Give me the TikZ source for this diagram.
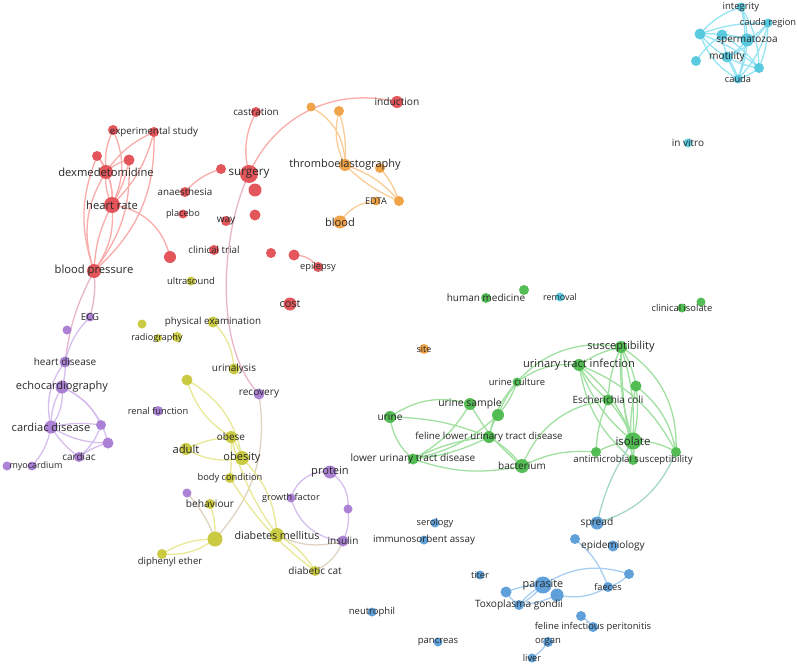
\documentclass[tikz,border=0pt]{standalone}
\usepackage{fontspec}
\setmainfont{Open Sans}
\definecolor{cR}{RGB}{226,78,84}
\definecolor{cO}{RGB}{240,160,64}
\definecolor{cC}{RGB}{84,200,222}
\definecolor{cG}{RGB}{76,186,76}
\definecolor{cB}{RGB}{88,156,216}
\definecolor{cP}{RGB}{168,124,212}
\definecolor{cY}{RGB}{200,200,58}
\definecolor{txt}{RGB}{40,40,40}
\definecolor{lR}{RGB}{250,172,170}
\definecolor{lO}{RGB}{250,204,150}
\definecolor{lC}{RGB}{150,228,244}
\definecolor{lG}{RGB}{160,224,160}
\definecolor{lB}{RGB}{168,206,242}
\definecolor{lP}{RGB}{214,190,238}
\definecolor{lY}{RGB}{232,232,150}
\pgfdeclarelayer{bg}
\pgfdeclarelayer{edges}
\pgfdeclarelayer{fg}
\pgfsetlayers{bg,edges,main,fg}
\newcommand\kw[7]{\node[dot,fill=#5,minimum size=#4pt] (#1) at (#2,-#3) {};
  \begin{pgfonlayer}{fg}\node[lbl,font=\fontsize{#6}{#6}\selectfont] (#1-t) at (#2,-#3) {#7};\end{pgfonlayer}}
\newcommand\dt[5]{\node[dot,fill=#5,minimum size=#4pt] (#1) at (#2,-#3) {};}
\begin{document}
\begin{tikzpicture}[x=1pt,y=1pt,
  dot/.style={circle,inner sep=0pt,draw=none,fill opacity=0.95},
  lbl/.style={inner sep=0pt,text=txt},
  ed/.style={line width=1.3pt},
  eR/.style={ed,draw=lR}, eO/.style={ed,draw=lO}, eC/.style={ed,draw=lC},
  eG/.style={ed,draw=lG}, eB/.style={ed,draw=lB}, eP/.style={ed,draw=lP},
  eY/.style={ed,draw=lY}, eRP/.style={ed,draw=lR!50!lP}, eYP/.style={ed,draw=lY!50!lP},
  eGB/.style={ed,draw=lG!50!lB}]
\begin{pgfonlayer}{bg}
\fill[white] (0,0) rectangle (797,-666);
\end{pgfonlayer}
\useasboundingbox (0,0) rectangle (797,-666);
% ---------- red
\kw{exs}{154}{132}{10}{cR}{9.8}{experimental study}
\dt{r1}{113}{130}{10}{cR}
\dt{r2}{97}{156}{10}{cR}
\dt{r3}{129}{160}{11}{cR}
\kw{dex}{106}{172}{14}{cR}{11.2}{dexmedetomidine}
\kw{hr}{112}{205}{16}{cR}{11.2}{heart rate}
\kw{bp}{94}{271}{14}{cR}{11.2}{blood pressure}
\dt{r4}{170}{257}{12}{cR}
\kw{cas}{256}{112}{10}{cR}{9.8}{castration}
\dt{r5}{221}{169}{10}{cR}
\kw{sur}{249}{174}{18}{cR}{11.6}{surgery}
\dt{r6}{255}{190}{13}{cR}
\kw{ana}{185}{192}{10}{cR}{9.8}{anaesthesia}
\kw{pla}{183}{214}{9}{cR}{9.2}{placebo}
\kw{way}{226}{221}{10}{cR}{10}{way}
\dt{r7}{255}{215}{11}{cR}
\kw{ct}{214}{250}{10}{cR}{9.8}{clinical trial}
\dt{r8}{271}{253}{10}{cR}
\dt{r9}{294}{255}{11}{cR}
\kw{epi}{318}{267}{10}{cR}{9.3}{epilepsy}
\kw{cost}{290}{304}{13}{cR}{10.8}{cost}
\kw{ind}{397}{102}{12}{cR}{10.2}{induction}
% ---------- orange
\dt{o1}{311}{107}{9}{cO}
\dt{o2}{339}{111}{10}{cO}
\kw{teg}{345}{165}{12}{cO}{11}{thromboelastography}
\dt{o3}{380}{168}{10}{cO}
\kw{edta}{376}{201}{9}{cO}{9.2}{EDTA}
\dt{o4}{399}{201}{10}{cO}
\kw{blood}{340}{222}{13}{cO}{11.1}{blood}
\kw{site}{424}{349}{10}{cO}{9}{site}
% ---------- cyan
\kw{integ}{741}{7}{9}{cC}{9.5}{integrity}
\kw{caur}{768}{23}{9}{cC}{9.3}{cauda region}
\dt{c3}{700}{34}{11}{cC}
\dt{c4}{722}{35}{11}{cC}
\kw{sperm}{747}{40}{13}{cC}{10}{spermatozoa}
\kw{mot}{727}{57}{11}{cC}{10.2}{motility}
\dt{c7}{696}{61}{10}{cC}
\dt{c8}{759}{68}{10}{cC}
\kw{cauda}{738}{79}{9}{cC}{9.3}{cauda}
\kw{vitro}{688}{143}{9}{cC}{10}{in vitro}
\kw{rem}{560}{297}{9}{cC}{9}{removal}
% ---------- green
\kw{hm}{486}{298}{10}{cG}{10}{human medicine}
\dt{g1}{524}{290}{10}{cG}
\dt{g2}{701}{302}{9}{cG}
\kw{ci}{682}{308}{9}{cG}{9.4}{clinical isolate}
\kw{sus}{621}{347}{12}{cG}{11.1}{susceptibility}
\kw{uti}{579}{365}{12}{cG}{11.1}{urinary tract infection}
\dt{gr}{636}{386}{11}{cG}
\kw{uc}{517}{382}{9}{cG}{9.4}{urine culture}
\kw{ec}{608}{400}{11}{cG}{10}{Escherichia coli}
\kw{us}{470}{404}{12}{cG}{10.4}{urine sample}
\dt{gx}{498}{415}{12}{cG}
\kw{ur}{390}{417}{12}{cG}{10.2}{urine}
\kw{flutd}{489}{437}{12}{cG}{9.7}{feline lower urinary tract disease}
\kw{iso}{633}{441}{17}{cG}{11.4}{isolate}
\kw{lutd}{413}{459}{11}{cG}{10.1}{lower urinary tract disease}
\kw{bac}{522}{466}{14}{cG}{10}{bacterium}
\dt{gy}{596}{452}{10}{cG}
\kw{ams}{633}{460}{10}{cG}{9.6}{antimicrobial susceptibility}
\dt{gz}{676}{452}{10}{cG}
% ---------- blue
\kw{spr}{597}{523}{13}{cB}{10.2}{spread}
\dt{b1}{575}{539}{10}{cB}
\kw{epid}{613}{546}{11}{cB}{10.1}{epidemiology}
\kw{ser}{435}{523}{9}{cB}{9.3}{serology}
\kw{elisa}{424}{540}{9}{cB}{9.8}{immunosorbent assay}
\kw{tit}{480}{575}{9}{cB}{9.3}{titer}
\kw{par}{543}{585}{17}{cB}{10.8}{parasite}
\dt{b2}{506}{592}{11}{cB}
\dt{b3}{557}{595}{13}{cB}
\kw{tg}{519}{605}{10}{cB}{10.1}{Toxoplasma gondii}
\kw{fae}{608}{587}{10}{cB}{9.2}{faeces}
\dt{b4}{629}{574}{10}{cB}
\dt{b5}{581}{616}{10}{cB}
\kw{fip}{593}{627}{10}{cB}{9.4}{feline infectious peritonitis}
\kw{org}{548}{642}{10}{cB}{9.5}{organ}
\kw{liv}{532}{658}{9}{cB}{9.3}{liver}
\kw{pan}{438}{642}{9}{cB}{9.5}{pancreas}
\kw{neu}{372}{612}{9}{cB}{9.5}{neutrophil}
% ---------- purple
\kw{ecg}{90}{317}{9}{cP}{9.5}{ECG}
\dt{p1}{67}{330}{9}{cP}
\kw{hd}{65}{362}{11}{cP}{10}{heart disease}
\kw{echo}{62}{387}{13}{cP}{11}{echocardiography}
\kw{cd}{51}{427}{13}{cP}{11.1}{cardiac disease}
\dt{p2}{101}{425}{10}{cP}
\dt{p3}{108}{443}{11}{cP}
\kw{card}{79}{457}{10}{cP}{10}{cardiac}
\dt{p4}{7}{466}{9}{cP}
\dt{myo}{32}{466}{9}{cP}
\begin{pgfonlayer}{fg}\node[lbl,font=\fontsize{9}{9}\selectfont] (myo-t) at (36,-466) {myocardium};\end{pgfonlayer}
\kw{renal}{158}{411}{10}{cP}{9.3}{renal function}
\kw{rec}{259}{394}{11}{cP}{10.1}{recovery}
\kw{prot}{330}{472}{13}{cP}{11.1}{protein}
\kw{gf}{291}{498}{9}{cP}{9.2}{growth factor}
\dt{p5}{348}{509}{9}{cP}
\kw{ins}{343}{541}{11}{cP}{10}{insulin}
\dt{p6}{187}{493}{9}{cP}
% ---------- yellow
\dt{y1}{142}{324}{9}{cY}
\kw{pe}{213}{322}{11}{cY}{9.8}{physical examination}
\dt{y2}{177}{337}{10}{cY}
\dt{rad}{158}{338}{8}{cY}
\begin{pgfonlayer}{fg}\node[lbl,font=\fontsize{9.1}{9.1}\selectfont] (rad-t) at (157,-338) {radiography};\end{pgfonlayer}
\kw{uri}{234}{369}{11}{cY}{10}{urinalysis}
\dt{y3}{187}{380}{11}{cY}
\kw{obese}{231}{437}{12}{cY}{10}{obese}
\kw{adult}{186}{449}{12}{cY}{11.2}{adult}
\kw{obes}{242}{458}{14}{cY}{11}{obesity}
\kw{bc}{230}{478}{10}{cY}{9.3}{body condition}
\kw{beh}{210}{504}{10}{cY}{10.2}{behaviour}
\dt{y4}{215}{539}{15}{cY}
\kw{dm}{277}{535}{14}{cY}{10.7}{diabetes mellitus}
\dt{dip}{162}{554}{10}{cY}
\begin{pgfonlayer}{fg}\node[lbl,font=\fontsize{9.5}{9.5}\selectfont] (dip-t) at (170,-562) {diphenyl ether};\end{pgfonlayer}
\kw{dc}{315}{571}{10}{cY}{10}{diabetic cat}
\kw{us2}{191}{281}{9}{cY}{9.4}{ultrasound}
% ================= edges
\begin{pgfonlayer}{edges}
% red
\draw[eR] (r1.center) to[bend left=25] (hr.center);
\draw[eR] (r1.center) to[bend right=15] (dex.center);
\draw[eR] (exs.center) to[bend right=15] (dex.center);
\draw[eR] (exs.center) to[bend left=15] (hr.center);
\draw[eR] (exs.center) to[bend left=25] (bp.center);
\draw[eR] (r2.center) to[bend left=15] (dex.center);
\draw[eR] (r2.center) to[bend left=20] (hr.center);
\draw[eR] (r2.center) to[bend right=20] (bp.center);
\draw[eR] (r3.center) to[bend right=15] (dex.center);
\draw[eR] (r3.center) to[bend left=10] (hr.center);
\draw[eR] (r3.center) to[bend left=20] (bp.center);
\draw[eR] (dex.center) to[bend left=15] (hr.center);
\draw[eR] (dex.center) to[bend right=15] (hr.center);
\draw[eR] (dex.center) to[bend right=25] (bp.center);
\draw[eR] (hr.center) to[bend left=20] (bp.center);
\draw[eR] (hr.center) to[bend right=12] (bp.center);
\draw[eR] (hr.center) to[bend left=35] (r4.center);
\draw[eR] (sur.center) to[bend left=20] (cas.center);
\draw[eR] (sur.center) to[bend left=40] (ind.center);
\draw[eR] (ana.center) to[bend left=15] (r5.center);
\draw[eRP] (sur.center) .. controls (222,-230) and (212,-345) .. (rec.center);
\draw[eR] (r9.center) to[bend left=25] (epi.center);
\draw[eRP] (bp.center) to[bend left=10] (ecg.center);
\draw[eRP] (bp.center) to[bend right=10] (hd.center);
% orange
\draw[eO] (o1.center) to[bend left=30] (teg.center);
\draw[eO] (o2.center) to[bend right=20] (teg.center);
\draw[eO] (o2.center) to[bend left=10] (teg.center);
\draw[eO] (teg.center) to[bend left=15] (o4.center);
\draw[eO] (teg.center) to[bend right=10] (o4.center);
\draw[eO] (o3.center) to[bend left=10] (o4.center);
\draw[eO] (edta.center) to[bend right=25] (blood.center);
% cyan
\draw[eC] (integ.center) to[bend right=15] (c3.center);
\draw[eC] (integ.center) to[bend left=10] (sperm.center);
\draw[eC] (integ.center) to[bend left=15] (cauda.center);
\draw[eC] (integ.center) to[bend left=15] (c8.center);
\draw[eC] (caur.center) to[bend right=10] (c3.center);
\draw[eC] (caur.center) to[bend left=10] (sperm.center);
\draw[eC] (caur.center) to[bend left=15] (mot.center);
\draw[eC] (caur.center) to[bend left=15] (cauda.center);
\draw[eC] (caur.center) to[bend left=10] (c8.center);
\draw[eC] (c3.center) to[bend left=10] (sperm.center);
\draw[eC] (c3.center) to[bend right=10] (mot.center);
\draw[eC] (c3.center) to[bend right=20] (cauda.center);
\draw[eC] (c3.center) to[bend left=10] (c8.center);
\draw[eC] (c4.center) to[bend left=10] (sperm.center);
\draw[eC] (c4.center) to[bend right=10] (cauda.center);
\draw[eC] (c4.center) to[bend left=10] (c8.center);
\draw[eC] (sperm.center) to[bend left=10] (mot.center);
\draw[eC] (sperm.center) to[bend left=10] (cauda.center);
\draw[eC] (mot.center) to[bend right=10] (c8.center);
\draw[eC] (mot.center) to[bend left=10] (cauda.center);
\draw[eC] (c7.center) to[bend left=10] (c4.center);
\draw[eC] (c8.center) to[bend left=10] (cauda.center);
% purple
\draw[eP] (ecg.center) to[bend right=15] (hd.center);
\draw[eP] (hd.center) to[bend left=10] (echo.center);
\draw[eP] (hd.center) to[bend right=25] (cd.center);
\draw[eP] (echo.center) to[bend right=15] (cd.center);
\draw[eP] (echo.center) to[bend left=20] (cd.center);
\draw[eP] (echo.center) to[bend left=20] (p2.center);
\draw[eP] (echo.center) to[bend left=25] (p3.center);
\draw[eP] (cd.center) to[bend left=10] (p2.center);
\draw[eP] (cd.center) to[bend right=15] (p3.center);
\draw[eP] (card.center) to[bend right=15] (p2.center);
\draw[eP] (card.center) to[bend left=10] (p3.center);
\draw[eP] (cd.center) to[bend right=10] (card.center);
\draw[eP] (cd.center) to[bend left=15] (myo.center);
\draw[eP] (prot.center) to[bend right=40] (gf.center);
\draw[eP] (gf.center) to[bend right=35] (ins.center);
\draw[eP] (prot.center) to[bend left=30] (p5.center);
\draw[eP] (p5.center) to[bend left=15] (ins.center);
\draw[eYP] (ins.center) to[bend left=20] (dm.center);
\draw[eYP] (ins.center) to[bend left=20] (dc.center);
\draw[eYP] (p6.center) to[bend left=10] (y4.center);
\draw[eYP] (rec.center) to[bend left=25] (y4.center);
% yellow
\draw[eY] (pe.center) to[bend left=20] (uri.center);
\draw[eY] (y3.center) to[bend right=20] (obese.center);
\draw[eY] (y3.center) to[bend left=25] (obes.center);
\draw[eY] (obese.center) to[bend left=10] (obes.center);
\draw[eY] (adult.center) to[bend right=20] (obes.center);
\draw[eY] (adult.center) to[bend left=10] (obese.center);
\draw[eY] (obes.center) to[bend left=20] (dm.center);
\draw[eY] (obese.center) to[bend right=10] (dm.center);
\draw[eY] (bc.center) to[bend right=10] (dc.center);
\draw[eY] (obese.center) to[bend left=5] (bc.center);
\draw[eY] (dm.center) to[bend left=15] (dc.center);
\draw[eY] (y4.center) to[bend left=20] (dip.center);
\draw[eY] (y4.center) to[bend right=15] (dip.center);
\draw[eY] (beh.center) to[bend left=10] (y4.center);
% green
\draw[eG] (ur.center) to[bend left=25] (us.center);
\draw[eG] (ur.center) to[bend left=10] (flutd.center);
\draw[eG] (ur.center) to[bend right=20] (lutd.center);
\draw[eG] (us.center) to[bend left=15] (lutd.center);
\draw[eG] (us.center) to[bend right=10] (bac.center);
\draw[eG] (lutd.center) to[bend left=10] (flutd.center);
\draw[eG] (lutd.center) to[bend right=10] (flutd.center);
\draw[eG] (lutd.center) to[bend right=15] (gx.center);
\draw[eG] (lutd.center) to[bend right=15] (bac.center);
\draw[eG] (flutd.center) to[bend left=10] (gx.center);
\draw[eG] (flutd.center) to[bend left=10] (bac.center);
\draw[eG] (uc.center) to[bend right=15] (flutd.center);
\draw[eG] (uc.center) to[bend left=10] (gx.center);
\draw[eG] (uc.center) to[bend left=20] (uti.center);
\draw[eG] (gx.center) to[bend left=40] (sus.center);
\draw[eG] (bac.center) to[bend left=30] (ec.center);
\draw[eG] (bac.center) to[bend left=15] (gy.center);
\draw[eG] (uti.center) to[bend left=10] (sus.center);
\draw[eG] (uti.center) to[bend right=15] (iso.center);
\draw[eG] (uti.center) to[bend left=15] (iso.center);
\draw[eG] (uti.center) to[bend right=10] (ec.center);
\draw[eG] (uti.center) to[bend left=20] (gz.center);
\draw[eG] (uti.center) to[bend right=20] (ams.center);
\draw[eG] (sus.center) to[bend right=10] (iso.center);
\draw[eG] (sus.center) to[bend left=10] (iso.center);
\draw[eG] (sus.center) to[bend left=10] (gr.center);
\draw[eG] (sus.center) to[bend right=10] (ec.center);
\draw[eG] (sus.center) to[bend left=30] (gz.center);
\draw[eG] (sus.center) to[bend right=5] (ams.center);
\draw[eG] (ec.center) to[bend left=10] (iso.center);
\draw[eG] (ec.center) to[bend right=10] (gy.center);
\draw[eG] (gr.center) to[bend left=10] (iso.center);
\draw[eG] (gr.center) to[bend left=20] (gz.center);
\draw[eG] (gr.center) to[bend right=10] (ams.center);
\draw[eG] (iso.center) to[bend left=15] (gz.center);
\draw[eG] (iso.center) to[bend left=10] (ams.center);
\draw[eG] (iso.center) to[bend right=10] (gy.center);
\draw[eGB] (iso.center) to[bend right=10] (spr.center);
\draw[eGB] (gz.center) to[bend left=25] (spr.center);
% blue
\draw[eB] (b1.center) to[bend left=15] (fae.center);
\draw[eB] (par.center) to[bend left=25] (b4.center);
\draw[eB] (fae.center) to[bend right=15] (b4.center);
\draw[eB] (b3.center) to[bend right=20] (fae.center);
\draw[eB] (par.center) to[bend left=10] (tg.center);
\draw[eB] (par.center) to[bend right=10] (tg.center);
\draw[eB] (b2.center) to[bend right=10] (tg.center);
\draw[eB] (b2.center) to[bend left=10] (par.center);
\draw[eB] (b3.center) to[bend left=10] (tg.center);
\draw[eB] (b5.center) to[bend left=10] (fip.center);
\draw[eB] (org.center) to[bend left=10] (liv.center);
\end{pgfonlayer}
\end{tikzpicture}
\end{document}
